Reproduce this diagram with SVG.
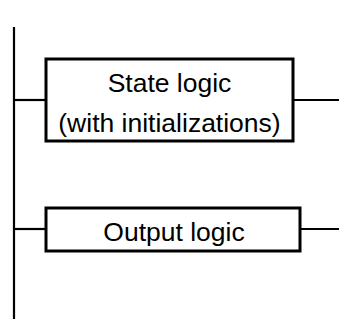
<svg xmlns="http://www.w3.org/2000/svg" width="339" height="326" viewBox="0 0 339 326">
<style>
.box{fill:#fff;stroke:#000;stroke-width:3}
.wire{stroke:#000;stroke-width:2.2;fill:none}
.t{font-family:"Liberation Sans",Arial,sans-serif;font-size:26.5px;fill:#000;text-anchor:middle}
</style>
<rect width="339" height="326" fill="#fff"/>
<g id="connectors">
<line class="wire" x1="14" y1="27" x2="14" y2="319"/>
<line class="wire" x1="14" y1="100" x2="46" y2="100"/>
<line class="wire" x1="293" y1="100" x2="339" y2="100"/>
<line class="wire" x1="14" y1="229" x2="46" y2="229"/>
<line class="wire" x1="300" y1="229" x2="339" y2="229"/>
</g>
<g id="state-logic">
<rect class="box" x="46" y="59" width="247" height="82"/>
<text class="t" x="169.5" y="92">State logic</text>
<text class="t" x="169.5" y="131.5">(with initializations)</text>
</g>
<g id="output-logic">
<rect class="box" x="46" y="208" width="254" height="43"/>
<text class="t" x="174" y="241">Output logic</text>
</g>
</svg>
